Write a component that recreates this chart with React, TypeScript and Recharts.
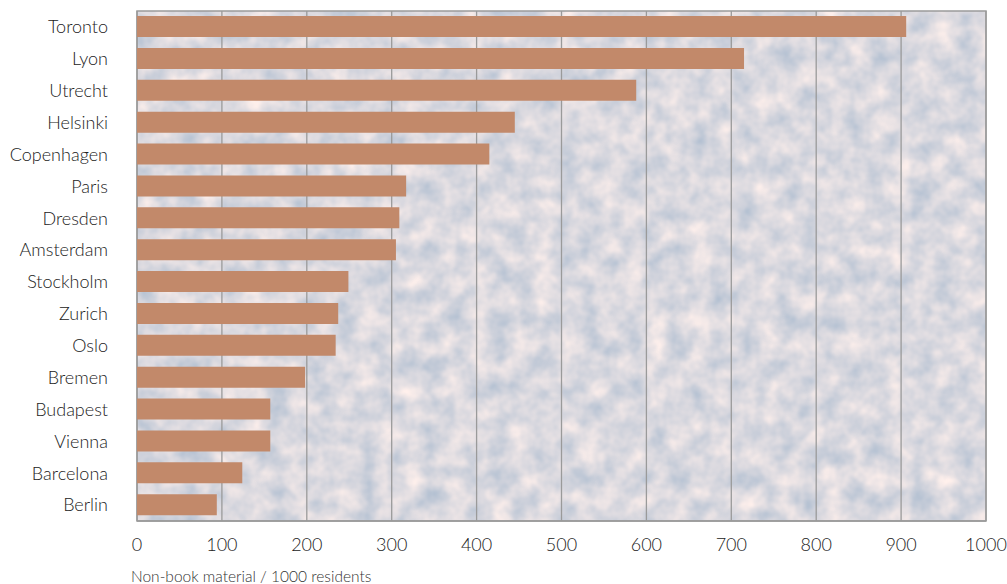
import { BarChart, Bar, XAxis, YAxis, CartesianGrid, ReferenceArea } from 'recharts';

const cities = [
  'Toronto', 'Lyon', 'Utrecht', 'Helsinki', 'Copenhagen', 'Paris', 'Dresden', 'Amsterdam',
  'Stockholm', 'Zurich', 'Oslo', 'Bremen', 'Budapest', 'Vienna', 'Barcelona', 'Berlin',
];
const nonBookPer1000 = [906, 715, 588, 445, 415, 317, 309, 305, 249, 237, 234, 198, 157, 157, 124, 94];
const xTicks = [0, 100, 200, 300, 400, 500, 600, 700, 800, 900, 1000];

const data = cities.map((city, i) => ({ city, value: nonBookPer1000[i] }));

const FONT = 'Lato, "Open Sans", sans-serif';

export default function App() {
  return (
    <div style={{ width: 1007, height: 584, background: '#ffffff' }}>
      <style>{'body { margin: 0; }'}</style>
      <BarChart
        width={1007}
        height={584}
        data={data}
        layout="vertical"
        margin={{ top: 11, right: 21, left: 0, bottom: 0 }}
        barCategoryGap={11}
      >
        <defs>
          {/* stone-ish background texture */}
          <filter
            id="stoneFilter"
            x="0"
            y="0"
            width="100%"
            height="100%"
            colorInterpolationFilters="sRGB"
          >
            <feTurbulence type="fractalNoise" baseFrequency="0.045" numOctaves="3" seed="11" />
            <feColorMatrix
              type="matrix"
              values="0.35 0 0 0 0.68
                      0.22 0 0 0 0.74
                      0.12 0 0 0 0.815
                      0 0 0 0 1"
            />
          </filter>
          <pattern id="stones" patternUnits="userSpaceOnUse" x="0" y="0" width="1007" height="584">
            <rect x="0" y="0" width="1007" height="584" filter="url(#stoneFilter)" />
          </pattern>
        </defs>
        <CartesianGrid
          horizontal={false}
          stroke="#9a9a9a"
          strokeWidth={1.3}
          fill="url(#stones)"
          fillOpacity={1}
        />
        <XAxis
          type="number"
          domain={[0, 1000]}
          ticks={xTicks}
          interval={0}
          height={63}
          tickLine={false}
          axisLine={{ stroke: '#9a9a9a', strokeWidth: 1.5 }}
          tickSize={0}
          tickMargin={17}
          tick={{ fill: '#222', fontSize: 18, fontFamily: FONT, fontWeight: 300 }}
          label={{
            value: 'Non-book material / 1000 residents',
            position: 'insideBottomLeft',
            offset: 2,
            dx: -8,
            fill: '#333',
            fontSize: 15.5,
            fontFamily: FONT,
            fontWeight: 300,
          }}
        />
        <YAxis
          type="category"
          dataKey="city"
          width={137}
          tickLine={false}
          axisLine={false}
          tickSize={0}
          tickMargin={29}
          interval={0}
          tick={{ fill: '#222', fontSize: 18, fontFamily: FONT, fontWeight: 300 }}
        />
        <ReferenceArea x1={0} x2={1000} fill="none" stroke="#9a9a9a" strokeWidth={1.5} />
        <Bar dataKey="value" fill="#c2896a" barSize={21} isAnimationActive={false} />
      </BarChart>
    </div>
  );
}
